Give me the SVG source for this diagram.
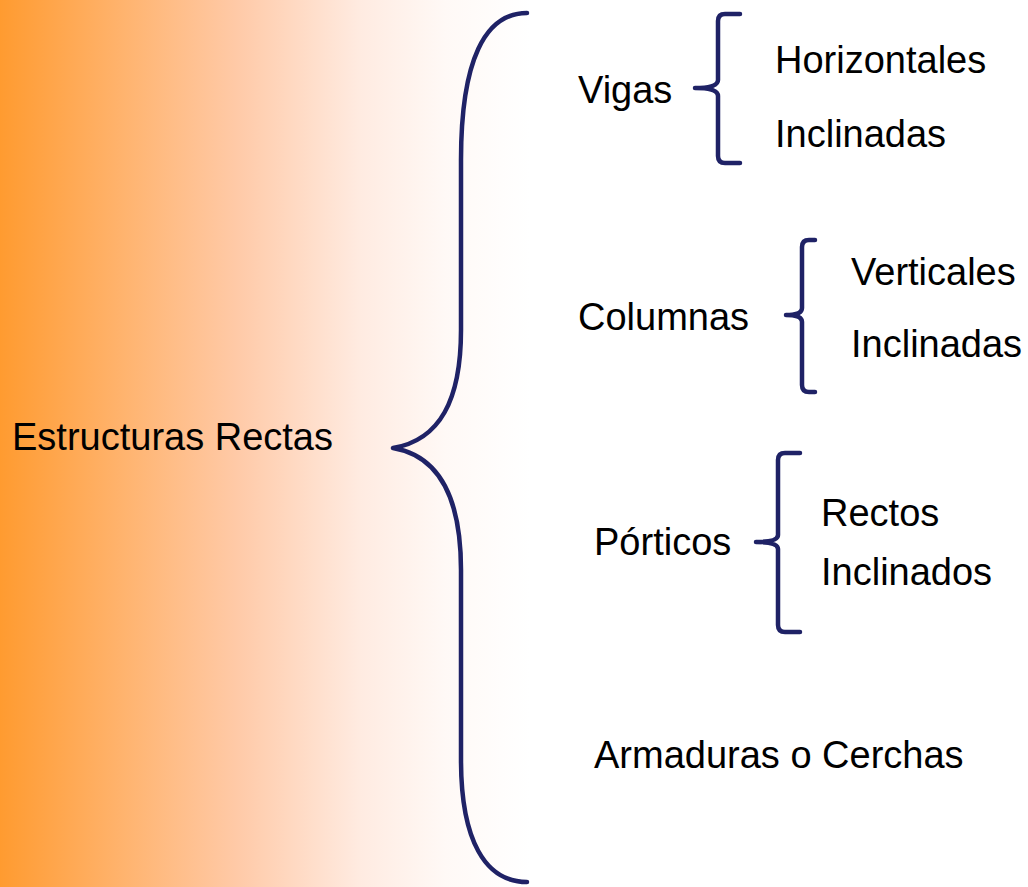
<svg xmlns="http://www.w3.org/2000/svg" width="1028" height="887" viewBox="0 0 1028 887">
<defs>
<linearGradient id="bg" x1="0" y1="0" x2="530" y2="0" gradientUnits="userSpaceOnUse">
<stop offset="0" stop-color="#FF9B30"/>
<stop offset="0.45" stop-color="#FFCAA8"/>
<stop offset="0.68" stop-color="#FFEBE1"/>
<stop offset="0.84" stop-color="#FFF9F6"/>
<stop offset="1" stop-color="#FFFFFF"/>
</linearGradient>
</defs>
<style>
.t{font-family:"Liberation Sans",Arial,sans-serif;font-size:38px;fill:#000}
.b{fill:none;stroke:#1F2266;stroke-width:4.5;stroke-linecap:round;stroke-linejoin:round}
</style>
<rect x="0" y="0" width="1028" height="887" fill="#FFFFFF"/>
<rect x="0" y="0" width="530" height="887" fill="url(#bg)"/>
<g id="connectors">
<path class="b" d="M527,13 C485,13 461,60 461,160 L461,330 C461,400 440,440 393,448 C440,456 461,500 461,570 L461,760 C461,840 485,882 527,882"/>
<path class="b" d="M740,14 H725 Q718,14 718,21 V80 Q718,88 695,88 Q718,88 718,96 V156 Q718,163 725,163 H740"/>
<path class="b" d="M815,240 H809 Q802,240 802,247 V308 Q802,315 786,315 Q802,315 802,322 V385 Q802,392 809,392 H815"/>
<path class="b" d="M800,453 H785 Q778,453 778,460 V535 Q778,542 756,542 Q778,542 778,549 V625 Q778,632 785,632 H800"/>
</g>
<g id="root"><text class="t" x="12" y="450">Estructuras Rectas</text></g>
<g id="vigas"><text class="t" x="578" y="103">Vigas</text></g>
<g id="vigas-horizontales"><text class="t" x="775" y="73">Horizontales</text></g>
<g id="vigas-inclinadas"><text class="t" x="775" y="147">Inclinadas</text></g>
<g id="columnas"><text class="t" x="578" y="330">Columnas</text></g>
<g id="columnas-verticales"><text class="t" x="851" y="285">Verticales</text></g>
<g id="columnas-inclinadas"><text class="t" x="851" y="357">Inclinadas</text></g>
<g id="porticos"><text class="t" x="594" y="555">Pórticos</text></g>
<g id="porticos-rectos"><text class="t" x="821" y="526">Rectos</text></g>
<g id="porticos-inclinados"><text class="t" x="821" y="585">Inclinados</text></g>
<g id="armaduras"><text class="t" x="594" y="768">Armaduras o Cerchas</text></g>
</svg>
